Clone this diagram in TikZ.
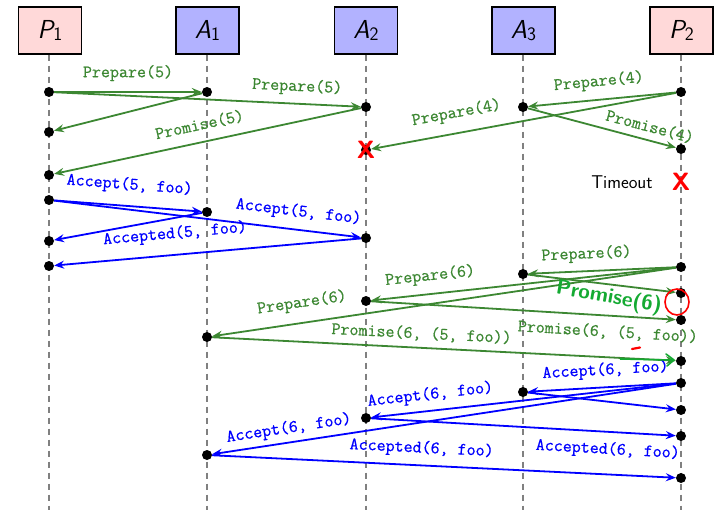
\documentclass[tikz,border=0pt]{standalone}
\usepackage{fontspec}
\usetikzlibrary{arrows.meta}
\newfontfamily\msgfont{Latin Modern Mono}[FakeBold=0.7]
\definecolor{msggreen}{RGB}{60,135,50}
\definecolor{pengreen}{RGB}{20,170,50}
\newcommand\actorname[2]{{\fontsize{26}{26}\selectfont\sffamily\itshape #1}\raisebox{-2.5pt}{\fontsize{19}{19}\selectfont\sffamily #2}}
\begin{document}
\begin{tikzpicture}[x=1pt,y=-1pt,
  actor/.style={draw=black, line width=1.4pt, minimum width=63pt, minimum height=47pt, inner sep=0pt},
  proposer/.style={actor, fill=red!15},
  acceptor/.style={actor, fill=blue!30},
  lifeline/.style={draw=gray, line width=1.5pt, dash pattern=on 6pt off 5pt},
  dot/.style={circle, fill=black, minimum size=10pt, inner sep=0pt},
  msg/.style={line width=1.8pt, -{Stealth[length=10pt,width=8pt,inset=3.5pt]}},
  gmsg/.style={msg, draw=msggreen},
  bmsg/.style={msg, draw=blue},
  lbl/.style={font=\fontsize{17.5}{18}\selectfont\msgfont, inner sep=0pt, sloped},
  glbl/.style={lbl, text=msggreen},
  blbl/.style={lbl, text=blue},
  crash/.style={text=red, font=\fontsize{25}{25}\selectfont\sffamily\bfseries, inner sep=0pt},
]
\useasboundingbox (0,0) rectangle (723,516);

% processes
\node[proposer] (P1) at (50,30.5) {\actorname{P}{1}};
\node[acceptor] (A1) at (207.5,30.5) {\actorname{A}{1}};
\node[acceptor] (A2) at (366,30.5) {\actorname{A}{2}};
\node[acceptor] (A3) at (523.5,30.5) {\actorname{A}{3}};
\node[proposer] (P2) at (681.5,30.5) {\actorname{P}{2}};

% lifelines
\coordinate (P1end) at (49,510);
\coordinate (A1end) at (207,510);
\coordinate (A2end) at (366,510);
\coordinate (A3end) at (523,510);
\coordinate (P2end) at (681,510);
\draw[lifeline] (P1.south -| P1end) -- (P1end);
\draw[lifeline] (A1.south -| A1end) -- (A1end);
\draw[lifeline] (A2.south -| A2end) -- (A2end);
\draw[lifeline] (A3.south -| A3end) -- (A3end);
\draw[lifeline] (P2.south -| P2end) -- (P2end);

% events
\node[dot] (p1a) at (49,92) {};
\node[dot] (p1b) at (49,132) {};
\node[dot] (p1c) at (49,175) {};
\node[dot] (p1d) at (49,200) {};
\node[dot] (p1e) at (49,241) {};
\node[dot] (p1f) at (49,266) {};

\node[dot] (a1a) at (207,92) {};
\node[dot] (a1b) at (207,212) {};
\node[dot] (a1c) at (207,337) {};
\node[dot] (a1d) at (207,455) {};

\node[dot] (a2a) at (366,107) {};
\node[dot] (a2b) at (366,150) {};
\node[dot] (a2c) at (366,238) {};
\node[dot] (a2d) at (366,301) {};
\node[dot] (a2e) at (366,418) {};

\node[dot] (a3a) at (523,107) {};
\node[dot] (a3b) at (523,274) {};
\node[dot] (a3c) at (523,392) {};

\node[dot] (p2a) at (681,92) {};
\node[dot] (p2b) at (681,149) {};
\node[dot] (p2c) at (681,267) {};
\node[dot] (p2d) at (681,293) {};
\node[dot] (p2e) at (681,320) {};
\node[dot] (p2f) at (681,361) {};
\node[dot] (p2g) at (681,383) {};
\node[dot] (p2h) at (681,410) {};
\node[dot] (p2i) at (681,436) {};
\node[dot] (p2j) at (681,478) {};

% round 5, phase 1
\draw[gmsg] (p1a) -- node[glbl, pos=0.5, above=10pt] {Prepare(5)} (a1a);
\draw[gmsg] (p1a) -- node[glbl, pos=0.79, above=8pt] {Prepare(5)} (a2a);
\draw[gmsg] (a1a) -- (p1b);
\draw[gmsg] (a2a) -- node[glbl, pos=0.514, above=10pt] {Promise(5)} (p1c);

% round 4
\draw[gmsg] (p2a) -- node[glbl, pos=0.51, above=9pt] {Prepare(4)} (a3a);
\draw[gmsg] (p2a) -- node[glbl, pos=0.708, above=11pt] {Prepare(4)} (a2b);
\draw[gmsg] (a3a) -- node[glbl, pos=0.8, above=6pt] {Promise(4)} (p2b);

% round 5, phase 2
\draw[bmsg] (p1d) -- node[blbl, pos=0.5, above=12pt] {Accept(5, foo)} (a1b);
\draw[bmsg] (p1d) -- node[blbl, pos=0.79, above=9pt] {Accept(5, foo)} (a2c);
\draw[bmsg] (a1b) -- (p1e);
\draw[bmsg] (a2c) -- node[blbl, pos=0.6, above=12pt] {Accepted(5, foo)} (p1f);

% round 6, phase 1
\draw[gmsg] (p2c) -- node[glbl, pos=0.6, above=8pt] {Prepare(6)} (a3b);
\draw[gmsg] (p2c) -- node[glbl, pos=0.8, above=9pt] {Prepare(6)} (a2d);
\draw[gmsg] (p2c) -- node[glbl, pos=0.8, above=11pt] {Prepare(6)} (a1c);
\draw[gmsg] (a3b) -- (p2d);
\draw[gmsg] (a2d) -- node[glbl, pos=0.78, below=8pt] {Promise(6, (5, foo))} (p2e);
\draw[gmsg] (a1c) -- node[glbl, pos=0.45, above=6pt] {Promise(6, (5, foo))} (p2f);

% round 6, phase 2
\draw[bmsg] (p2g) -- node[blbl, pos=0.47, above=8pt] {Accept(6, foo)} (a3c);
\draw[bmsg] (p2g) -- node[blbl, pos=0.8, above=7pt] {Accept(6, foo)} (a2e);
\draw[bmsg] (p2g) -- node[blbl, pos=0.83, above=5pt] {Accept(6, foo)} (a1d);
\draw[bmsg] (a3c) -- (p2h);
\draw[bmsg] (a2e) -- node[blbl, pos=0.78, below=9pt] {Accepted(6, foo)} (p2i);
\draw[bmsg] (a1d) -- node[blbl, pos=0.45, above=8pt] {Accepted(6, foo)} (p2j);

% failures
\node[crash] (a2x) at (a2b) {X};
\node[font=\fontsize{18.5}{19}\selectfont\sffamily, inner sep=0pt] (timeout) at (622,182) {Timeout};
\node[crash] (p2x) at (681,182) {X};

% pen annotations
\node[text=pengreen, font=\fontsize{21}{21}\selectfont\sffamily\bfseries, rotate=-10, inner sep=0pt] (note) at (609,298) {Promise(6)};
\draw[red, line width=1.6pt] (677,302) ellipse [x radius=12pt, y radius=13pt];
\draw[red, line width=2.2pt, line cap=round] (632,349) -- (640,347.5);
\draw[pengreen, line width=1.6pt] (620,359) -- (672,360);
\draw[pengreen, line width=1.6pt, line cap=round, line join=round] (666,354) -- (674,360) -- (667,366);
\end{tikzpicture}
\end{document}
